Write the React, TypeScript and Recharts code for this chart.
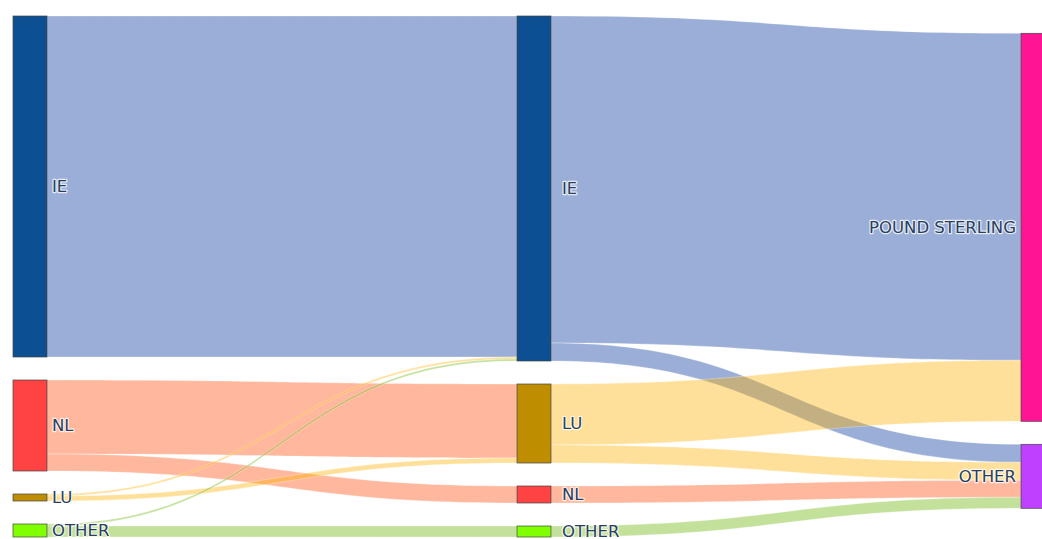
import React from 'react';
import { Sankey } from 'recharts';

// Nodes: column 0 (origin), column 1 (domicile), column 2 (currency)
const nodeNames = ['IE', 'NL', 'LU', 'OTHER', 'IE', 'LU', 'NL', 'OTHER', 'POUND STERLING', 'OTHER'];
const nodeColors = ['#0c4f92', '#ff4242', '#bf8e00', '#80ff00', '#0c4f92', '#bf8e00', '#ff4242', '#80ff00', '#ff1493', '#c040ff'];

// Links
const linkSources = [0, 1, 1, 2, 2, 3, 3, 4, 4, 5, 5, 6, 7];
const linkTargets = [4, 5, 6, 4, 5, 4, 7, 8, 9, 8, 9, 9, 9];
const linkValues = [341, 74, 17, 2, 5, 2, 11, 327, 18, 61, 18, 17, 11];

const LINK_BLUE = 'rgb(3,52,155)';
const LINK_SALMON = 'rgb(255,78,10)';
const LINK_YELLOW = 'rgb(255,177,2)';
const LINK_GREEN = 'rgb(105,180,5)';
const linkColors = [
  LINK_BLUE, LINK_SALMON, LINK_SALMON, LINK_YELLOW, LINK_YELLOW, LINK_GREEN, LINK_GREEN,
  LINK_BLUE, LINK_BLUE, LINK_YELLOW, LINK_YELLOW, LINK_SALMON, LINK_GREEN,
];

const data = {
  nodes: nodeNames.map((name, i) => ({ name, color: nodeColors[i], col: i >= 8 ? 2 : i >= 4 ? 1 : 0 })),
  links: linkSources.map((s, i) => ({ source: s, target: linkTargets[i], value: linkValues[i], color: linkColors[i] })),
};

function NodeShape(props: any) {
  const { x, y, width, height, payload } = props;
  const col = payload.col;
  const isLast = col === 2;
  const cy = y + height / 2;
  const tx = isLast ? x - 5 : x + width + (col === 1 ? 11 : 5);
  return (
    <g>
      <rect x={x} y={y} width={width} height={height} fill={payload.color} stroke="#444" strokeWidth={0.7} />
      <text
        x={tx}
        y={cy}
        dy="0.36em"
        textAnchor={isLast ? 'end' : 'start'}
        fontFamily="'DejaVu Sans', Verdana, sans-serif"
        fontSize={16.5}
        fill="#2a3f5f"
        stroke="#fff"
        strokeWidth={2.5}
        strokeOpacity={0.75}
        strokeLinejoin="round"
        paintOrder="stroke"
      >
        {payload.name}
      </text>
    </g>
  );
}

function LinkShape(props: any) {
  const { sourceX, sourceY, targetX, targetY, sourceControlX, targetControlX, linkWidth, payload } = props;
  const h = linkWidth / 2;
  const d =
    `M${sourceX},${sourceY - h} C${sourceControlX},${sourceY - h} ${targetControlX},${targetY - h} ${targetX},${targetY - h} ` +
    `L${targetX},${targetY + h} C${targetControlX},${targetY + h} ${sourceControlX},${sourceY + h} ${sourceX},${sourceY + h} Z`;
  return <path d={d} fill={payload.color} fillOpacity={0.4} stroke="#fff" strokeWidth={0.5} strokeOpacity={0.6} />;
}

export default function App() {
  return (
    <div style={{ position: 'absolute', left: 0, top: 0, width: 1042, height: 539, overflow: 'hidden', background: '#fff' }}>
      <Sankey
        width={1055}
        height={539}
        data={data}
        nodeWidth={34}
        nodePadding={23}
        margin={{ top: 16, left: 13, right: 0, bottom: 2 }}
        iterations={32}
        sort={false}
        node={NodeShape}
        link={LinkShape}
      />
    </div>
  );
}
